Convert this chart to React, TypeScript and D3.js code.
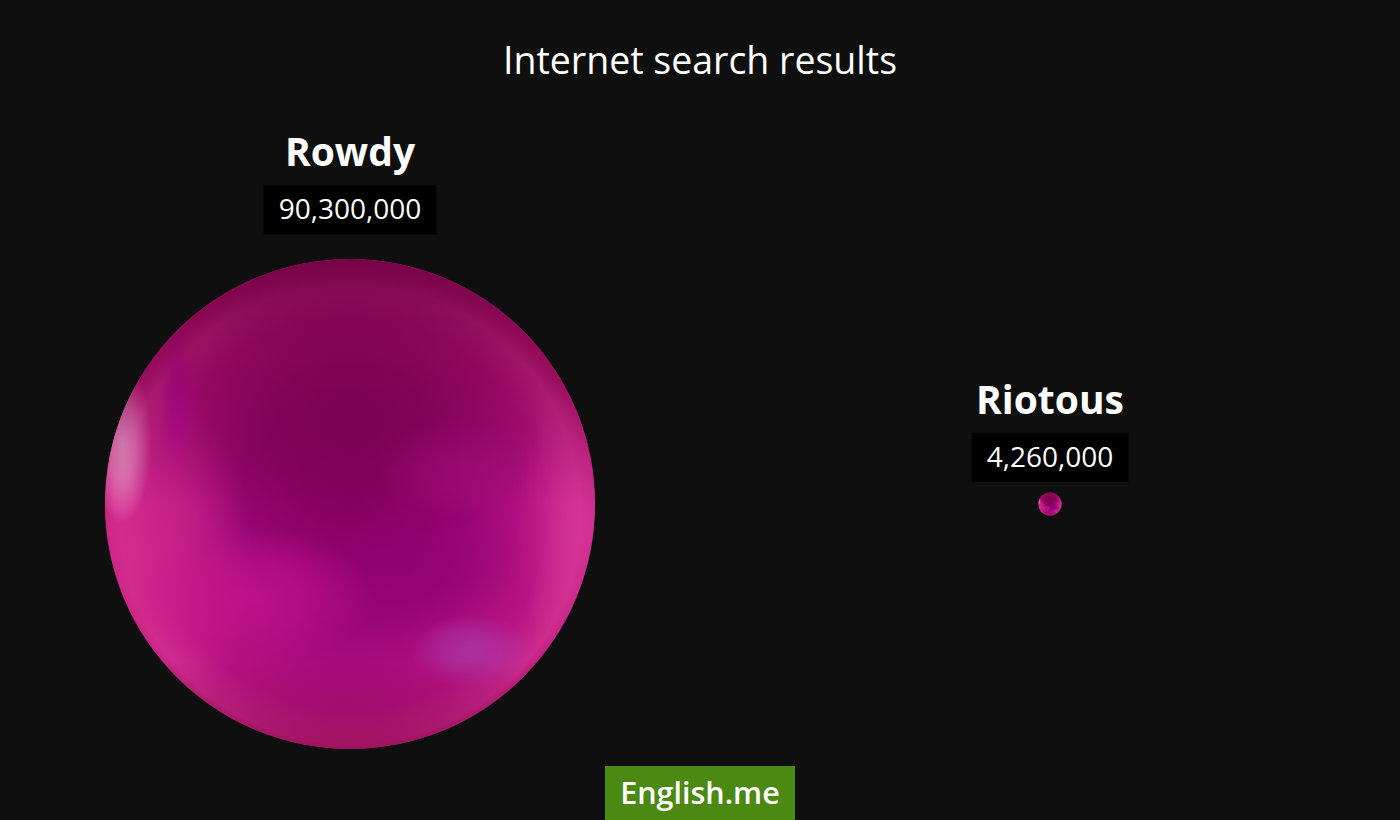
import * as d3 from "d3";
import { useEffect, useRef } from "react";

const WIDTH = 1400;
const HEIGHT = 820;

const title = "Internet search results";
const words = ["Rowdy", "Riotous"];
const results = [90300000, 4260000];

const FONT = "'Open Sans', 'Noto Sans', sans-serif";

// soft colour patches on the sphere, relative to its centre and radius
const patchSpec = [
  { dx: 0.0, dy: -0.3, rx: 0.8, ry: 0.55, color: "#720048", op: 0.65 },
  { dx: 0.25, dy: 0.25, rx: 0.45, ry: 0.3, color: "#880070", op: 0.5 },
  { dx: 0.45, dy: -0.15, rx: 0.35, ry: 0.2, color: "#b0128a", op: 0.45 },
  { dx: -0.9, dy: 0.2, rx: 0.5, ry: 0.75, color: "#d42c8e", op: 0.8 },
  { dx: -0.4, dy: 0.38, rx: 0.5, ry: 0.28, color: "#c8148e", op: 0.7 },
  { dx: 0.98, dy: 0.1, rx: 0.3, ry: 0.7, color: "#d8389a", op: 0.75 },
  { dx: 0.5, dy: 0.6, rx: 0.25, ry: 0.15, color: "#a840b0", op: 0.65 },
  { dx: -0.93, dy: -0.25, rx: 0.12, ry: 0.33, color: "#f2b0d4", op: 0.8 },
  { dx: -0.7, dy: -0.45, rx: 0.08, ry: 0.32, color: "#b8089a", op: 0.8 },
];

export default function App() {
  const ref = useRef<SVGSVGElement>(null);

  useEffect(() => {
    document.body.style.margin = "0";
    document.body.style.background = "#0f0f0f";

    const svg = d3.select(ref.current);
    svg.selectAll("*").remove();

    const x = d3.scalePoint<string>().domain(words).range([0, WIDTH]).padding(0.5);
    const r = d3.scaleLinear().domain([0, d3.max(results) as number]).range([0, 245]);
    const cy = 504;
    const fmt = d3.format(",");

    svg.append("rect").attr("width", WIDTH).attr("height", HEIGHT).attr("fill", "#0f0f0f");

    svg
      .append("text")
      .attr("x", WIDTH / 2)
      .attr("y", 74)
      .attr("text-anchor", "middle")
      .attr("fill", "#ffffff")
      .style("font-family", FONT)
      .style("font-size", "37.5px")
      .text(title);

    const defs = svg.append("defs");

    // base shading of the sphere, shared by all bubbles
    const base = defs
      .append("radialGradient")
      .attr("id", "sphere-base")
      .attr("cx", "0.5")
      .attr("cy", "0.52")
      .attr("r", "0.5");
    [
      [0, "#90006c"],
      [0.45, "#9c0678"],
      [0.8, "#b81282"],
      [0.94, "#cc2a8c"],
      [1, "#bc1676"],
    ].forEach(([o, c]) => base.append("stop").attr("offset", o as number).attr("stop-color", c as string));

    const top = defs
      .append("linearGradient")
      .attr("id", "sphere-top")
      .attr("x1", "0")
      .attr("y1", "0")
      .attr("x2", "0")
      .attr("y2", "1");
    top.append("stop").attr("offset", 0).attr("stop-color", "#6a0040").attr("stop-opacity", 0.85);
    top.append("stop").attr("offset", 0.2).attr("stop-color", "#70003f").attr("stop-opacity", 0.5);
    top.append("stop").attr("offset", 0.5).attr("stop-color", "#6a0045").attr("stop-opacity", 0);
    top.append("stop").attr("offset", 0.82).attr("stop-color", "#6a0045").attr("stop-opacity", 0);
    top.append("stop").attr("offset", 1).attr("stop-color", "#80003e").attr("stop-opacity", 0.55);

    patchSpec.forEach((p, k) => {
      const grad = defs.append("radialGradient").attr("id", `patch-${k}`);
      grad.append("stop").attr("offset", 0).attr("stop-color", p.color).attr("stop-opacity", p.op);
      grad.append("stop").attr("offset", 0.45).attr("stop-color", p.color).attr("stop-opacity", p.op * 0.7);
      grad.append("stop").attr("offset", 1).attr("stop-color", p.color).attr("stop-opacity", 0);
    });

    words.forEach((word, i) => {
      const cx = x(word) as number;
      const rad = r(results[i]);
      const g = svg.append("g");

      defs
        .append("clipPath")
        .attr("id", `clip-${i}`)
        .append("circle")
        .attr("cx", cx)
        .attr("cy", cy)
        .attr("r", rad);

      g.append("circle").attr("cx", cx).attr("cy", cy).attr("r", rad).attr("fill", "url(#sphere-base)");

      const patches = g.append("g").attr("clip-path", `url(#clip-${i})`);
      patches
        .selectAll("ellipse")
        .data(patchSpec)
        .join("ellipse")
        .attr("cx", (p) => cx + rad * p.dx)
        .attr("cy", (p) => cy + rad * p.dy)
        .attr("rx", (p) => rad * p.rx)
        .attr("ry", (p) => rad * p.ry)
        .attr("fill", (_, k) => `url(#patch-${k})`);

      patches
        .append("circle")
        .attr("cx", cx)
        .attr("cy", cy)
        .attr("r", rad)
        .attr("fill", "url(#sphere-top)");

      // labels
      const boxBottom = cy - rad - (10 + rad * 0.06);
      const boxTop = boxBottom - 49;
      g.append("text")
        .attr("x", cx)
        .attr("y", boxTop - 19)
        .attr("text-anchor", "middle")
        .attr("fill", "#ffffff")
        .style("font-family", FONT)
        .style("font-weight", 700)
        .style("font-size", "39px")
        .text(word);

      const value = g
        .append("text")
        .attr("x", cx)
        .attr("y", boxTop + 34)
        .attr("text-anchor", "middle")
        .attr("fill", "#ffffff")
        .style("font-family", FONT)
        .style("font-size", "28px")
        .text(fmt(results[i]));
      const bb = (value.node() as SVGTextElement).getBBox();
      g.insert("rect", () => value.node())
        .attr("x", cx - bb.width / 2 - 15)
        .attr("y", boxTop)
        .attr("width", bb.width + 30)
        .attr("height", 49)
        .attr("fill", "#000000");
    });

    // logo
    const logo = svg.append("g");
    logo.append("rect").attr("x", 605).attr("y", 766).attr("width", 190).attr("height", 60).attr("fill", "#4b8912");
    logo
      .append("text")
      .attr("x", 700)
      .attr("y", 804)
      .attr("text-anchor", "middle")
      .attr("fill", "#ffffff")
      .style("font-family", FONT)
      .style("font-weight", 600)
      .style("font-size", "30.5px")
      .text("English.me");
  }, []);

  return (
    <svg
      ref={ref}
      width={WIDTH}
      height={HEIGHT}
      style={{ display: "block", position: "absolute", left: 0, top: 0 }}
    />
  );
}
